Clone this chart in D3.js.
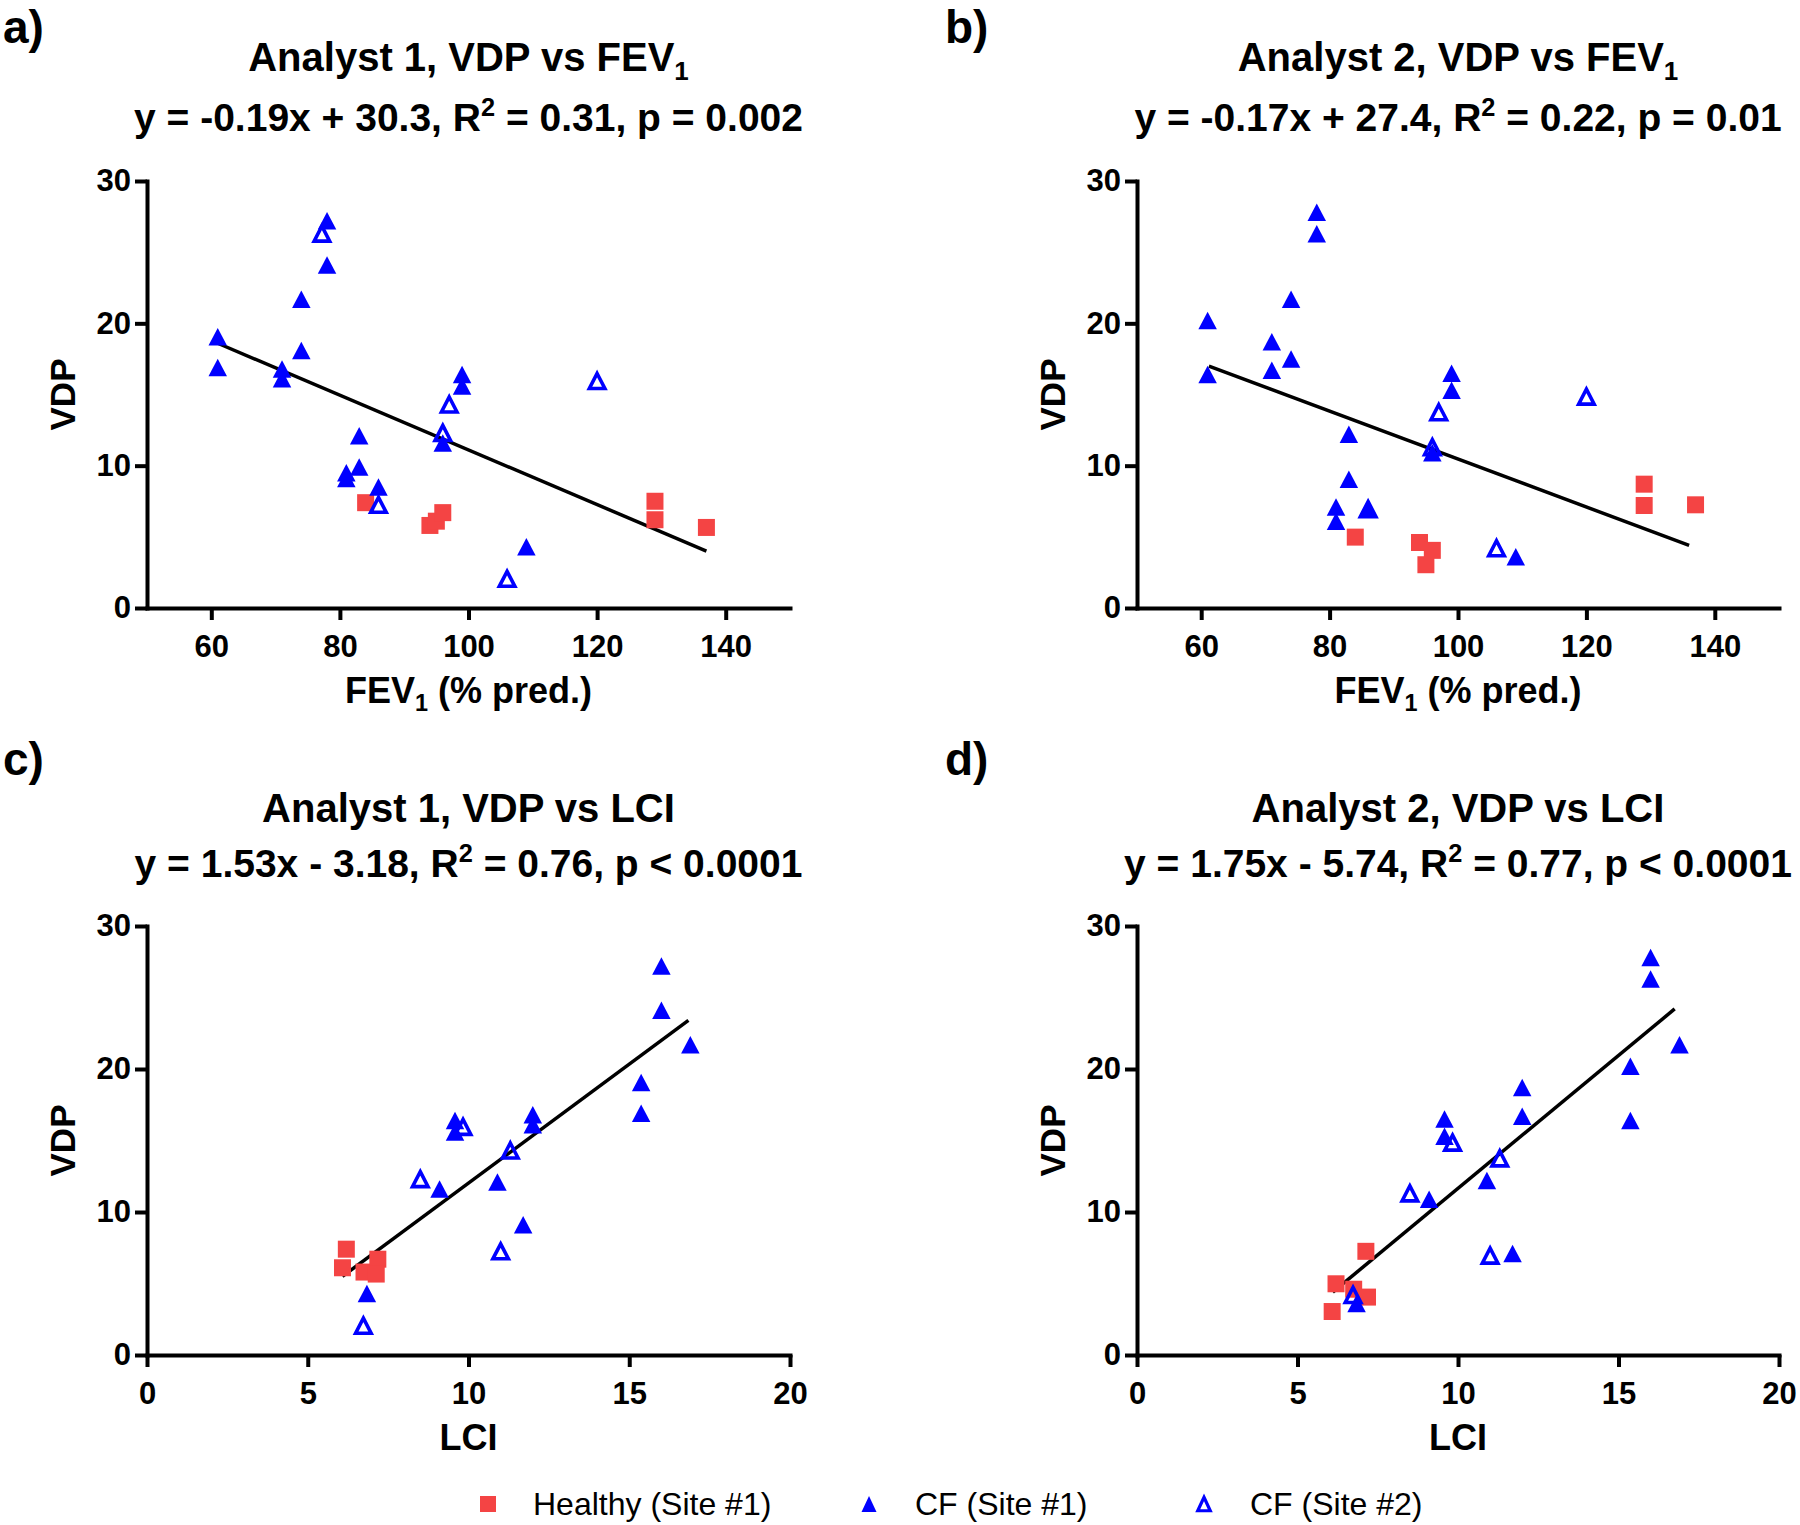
<!DOCTYPE html>
<html><head><meta charset="utf-8">
<script src="https://cdn.jsdelivr.net/npm/d3@7"></script>
<style>
body{margin:0;background:#fff}
svg{display:block}
text{font-family:"Liberation Sans",Arial,Helvetica,sans-serif;fill:#000}
</style>
</head><body>
<svg id="chart" width="1800" height="1525"></svg>
<script>
// ---------------- data ----------------
const healthyFev1  = [84, 94, 95, 96, 129, 129, 137];
const healthyLci   = [6.2, 6.75, 6.08, 7.18, null, null, 7.13];
const healthyVdpA1 = [7.4, 5.8, 6.1, 6.7, 7.5, 6.2, 5.66];
const healthyVdpA2 = [4.98, 4.6, 3.04, 4.05, 8.7, 7.2, 7.25];

const cf1Fev1  = [61, 61, 71, 71, 74, 74, 78, 78, 83, 83, 81, 81, 86, 96, 99, 99, 109];
const cf1Lci   = [15.37, 15.37, 12.0, 12.0, 16.9, null, 16.0, 16.0, 10.9, null, 11.7, null, null, 9.1, 9.58, 9.58, 6.84];
const cf1VdpA1 = [19.06, 16.9, 16.8, 16.1, 21.7, 18.1, 27.2, 24.1, 12.1, 9.9, 9.1, 9.5, 8.5, 11.6, 16.4, 15.6, 4.3];
const cf1VdpA2 = [20.2, 16.4, 18.7, 16.7, 21.7, 17.5, 27.8, 26.3, 12.2, 9.05, 7.1, 6.1, 7.0, 10.9, 16.5, 15.3, 3.6];

const cf2Fev1  = [77.2, 97, 96, 120, 86, 106];
const cf2Lci   = [null, 11.3, 8.5, 9.83, 11.0, 6.73];
const cf2VdpA1 = [26.3, 14.3, 12.3, 15.95, 7.25, 2.05];
const cf2VdpA2 = [null, 13.75, 11.3, 14.85, 6.95, 4.2];

// fitted regression lines (end points)
const fitA1Fev1 = [[61, 18.6], [137, 4.0]];
const fitA2Fev1 = [[61.2, 17.0], [136, 4.4]];
const fitA1Lci  = [[6.08, 5.5], [16.84, 23.4]];
const fitA2Lci  = [[6.1, 4.4], [16.75, 24.2]];

const fevTicks = [60, 80, 100, 120, 140];
const lciTicks = [0, 5, 10, 15, 20];
const vdpTicks = [0, 10, 20, 30];

const panelLabels = ["a)", "b)", "c)", "d)"];
const panelTitles = ["Analyst 1, VDP vs FEV", "Analyst 2, VDP vs FEV", "Analyst 1, VDP vs LCI", "Analyst 2, VDP vs LCI"];
const equations = [
  ["y = -0.19x + 30.3, R", "2", " = 0.31, p = 0.002"],
  ["y = -0.17x + 27.4, R", "2", " = 0.22, p = 0.01"],
  ["y = 1.53x - 3.18, R", "2", " = 0.76, p < 0.0001"],
  ["y = 1.75x - 5.74, R", "2", " = 0.77, p < 0.0001"]
];
const legendLabels = ["Healthy (Site #1)", "CF (Site #1)", "CF (Site #2)"];

// ---------------- build rows ----------------
const rows = (fev, lci, a1, a2) => fev.map((f, i) => ({fev1: f, lci: lci[i], a1: a1[i], a2: a2[i]}));
const healthy = rows(healthyFev1, healthyLci, healthyVdpA1, healthyVdpA2);
const cf1 = rows(cf1Fev1, cf1Lci, cf1VdpA1, cf1VdpA2);
const cf2 = rows(cf2Fev1, cf2Lci, cf2VdpA1, cf2VdpA2);

const RED = "#F44444", BLUE = "#0000FF";
const svg = d3.select("#chart");

const tri = (w, h) => `M0,${-h/2}L${w/2},${h/2}L${-w/2},${h/2}Z`;
const sq = s => `M${-s/2},${-s/2}h${s}v${s}h${-s}Z`;

function rich(g, x, y, parts, size, weight, anchor) {
  // parts: [{t, k}] k: undefined | 'sub' | 'sup'
  const t = g.append("text").attr("x", x).attr("y", y)
    .attr("font-size", size).attr("font-weight", weight).attr("text-anchor", anchor || "middle");
  let pending = 0;
  parts.forEach(p => {
    const ts = t.append("tspan").text(p.t);
    if (!p.k) {
      if (pending) ts.attr("dy", pending);
      pending = 0;
    } else {
      const shift = p.k === "sub" ? size * 0.22 : -size * 0.38;
      ts.attr("font-size", size * 0.65).attr("dy", shift + pending);
      pending = -shift;
    }
  });
  return t;
}

const layout = [
  {x0: 147,  x1: 790,  yTop: 181, yBot: 608,  labelX: 3,   labelY: 43,  titleY: 71,  eqY: 131},
  {x0: 1137, x1: 1779, yTop: 181, yBot: 608,  labelX: 945, labelY: 43,  titleY: 71,  eqY: 131},
  {x0: 147,  x1: 790,  yTop: 926, yBot: 1355, labelX: 3,   labelY: 775, titleY: 822, eqY: 877},
  {x0: 1137, x1: 1779, yTop: 926, yBot: 1355, labelX: 945, labelY: 775, titleY: 822, eqY: 877}
];
const xKeys = ["fev1", "fev1", "lci", "lci"];
const yKeys = ["a1", "a2", "a1", "a2"];
const fits = [fitA1Fev1, fitA2Fev1, fitA1Lci, fitA2Lci];

layout.forEach((L, i) => {
  const isFev = xKeys[i] === "fev1";
  const x = d3.scaleLinear().domain(isFev ? [50, 150] : [0, 20]).range([L.x0, L.x1]);
  const y = d3.scaleLinear().domain([0, 30]).range([L.yBot, L.yTop]);
  const g = svg.append("g");
  const cx = (L.x0 + L.x1) / 2;

  // panel label
  g.append("text").attr("x", L.labelX).attr("y", L.labelY).attr("font-size", 46)
    .attr("font-weight", "bold").text(panelLabels[i]);
  // title
  const tparts = [{t: panelTitles[i]}];
  if (isFev) tparts.push({t: "1", k: "sub"});
  rich(g, cx, L.titleY, tparts, 40, "bold");
  const e = equations[i];
  rich(g, cx, L.eqY, [{t: e[0]}, {t: e[1], k: "sup"}, {t: e[2]}], 39, "bold");

  // axes
  const ax = g.append("g").attr("transform", `translate(0,${L.yBot})`)
    .call(d3.axisBottom(x).tickValues(isFev ? fevTicks : lciTicks).tickSize(12).tickSizeOuter(0).tickPadding(15));
  const ay = g.append("g").attr("transform", `translate(${L.x0},0)`)
    .call(d3.axisLeft(y).tickValues(vdpTicks).tickSize(12).tickSizeOuter(0).tickPadding(4));
  [ax, ay].forEach(a => {
    a.select(".domain").attr("stroke", "#000").attr("stroke-width", 4).attr("stroke-linecap", "square");
    a.selectAll(".tick line").attr("stroke", "#000").attr("stroke-width", 4);
    a.selectAll(".tick text").attr("font-size", 31).attr("font-weight", "bold")
      .attr("font-family", '"Liberation Sans",Arial,sans-serif').attr("fill", "#000");
  });

  // axis titles
  const xt = isFev ? [{t: "FEV"}, {t: "1", k: "sub"}, {t: " (% pred.)"}] : [{t: "LCI"}];
  rich(g, cx, L.yBot + 95, xt, 36, "bold");
  g.append("text").attr("transform", `translate(${L.x0 - 72},${(L.yTop + L.yBot) / 2}) rotate(-90)`)
    .attr("text-anchor", "middle").attr("font-size", 35).attr("font-weight", "bold").text("VDP");

  // fit line
  g.append("path").datum(fits[i])
    .attr("d", d3.line().x(d => x(d[0])).y(d => y(d[1])))
    .attr("stroke", "#000").attr("stroke-width", 3.5).attr("fill", "none");

  const xk = xKeys[i], yk = yKeys[i];
  const ok = d => d[xk] != null && d[yk] != null;
  g.append("g").selectAll("path").data(healthy.filter(ok)).join("path")
    .attr("transform", d => `translate(${x(d[xk])},${y(d[yk])})`)
    .attr("d", sq(17)).attr("fill", RED);
  g.append("g").selectAll("path").data(cf1.filter(ok)).join("path")
    .attr("transform", d => `translate(${x(d[xk])},${y(d[yk])})`)
    .attr("d", tri(18.5, 17.5)).attr("fill", BLUE);
  g.append("g").selectAll("path").data(cf2.filter(ok)).join("path")
    .attr("transform", d => `translate(${x(d[xk])},${y(d[yk])})`)
    .attr("d", tri(15.5, 15)).attr("fill", "none").attr("stroke", BLUE).attr("stroke-width", 3.6)
    .attr("stroke-linejoin", "miter");
});

// legend
const legY = 1504;
const legMarkX = [488, 869, 1204];
const legTextX = [533, 915, 1250];
const lg = svg.append("g");
legendLabels.forEach((lab, i) => {
  const m = lg.append("path").attr("transform", `translate(${legMarkX[i]},${legY})`);
  if (i === 0) m.attr("d", sq(16)).attr("fill", RED);
  else if (i === 1) m.attr("d", tri(15, 16)).attr("fill", BLUE);
  else m.attr("d", tri(12.5, 13.5)).attr("fill", "none").attr("stroke", BLUE).attr("stroke-width", 3.2);
  lg.append("text").attr("x", legTextX[i]).attr("y", legY + 11).attr("font-size", 32).text(lab);
});
</script>
</body></html>
